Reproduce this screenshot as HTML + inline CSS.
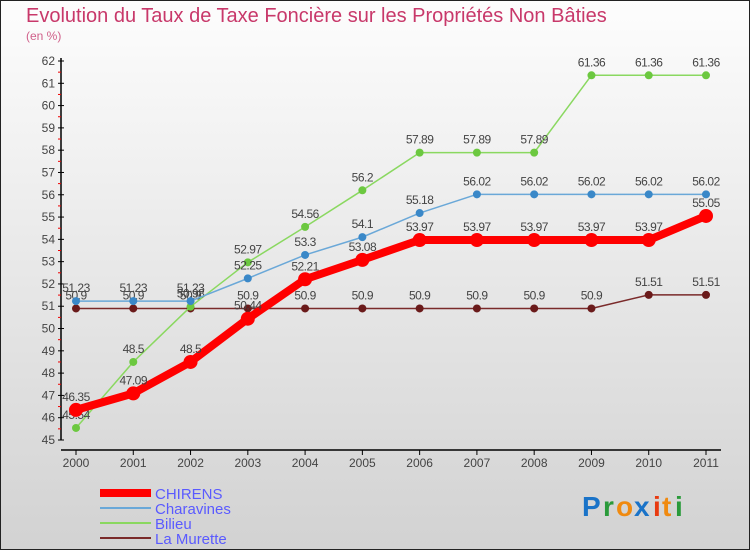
<!DOCTYPE html>
<html><head><meta charset="utf-8"><style>
body{margin:0;width:750px;height:550px;overflow:hidden;font-family:"Liberation Sans",sans-serif}
</style></head><body>
<svg width="750" height="550" xmlns="http://www.w3.org/2000/svg">
<defs><linearGradient id="bg" x1="0" y1="0" x2="0" y2="1"><stop offset="0" stop-color="#fdfdfd"/><stop offset="1" stop-color="#d2d2d2"/></linearGradient></defs>
<rect x="0.5" y="0.5" width="749" height="549" fill="url(#bg)" stroke="#222"/>
<text x="26" y="22" font-size="20" fill="#c8386a">Evolution du Taux de Taxe Foncière sur les Propriétés Non Bâties</text>
<text x="26" y="40" font-size="12" fill="#d0608a">(en %)</text>
<g id="axes"></g>
<g id="series"></g>
<g id="legend"></g>
<g font-size="28" font-family="Liberation Sans, sans-serif" font-weight="bold">
<text x="582" y="516" fill="#1a73c8">P</text><text x="603" y="516" fill="#2a9a3a">r</text><text x="616" y="516" fill="#f08a10">o</text><text x="634" y="516" fill="#1a73c8">x</text><text x="653" y="516" fill="#e83a10">i</text><text x="662" y="516" fill="#f08a10">t</text><text x="675" y="516" fill="#2a9a3a">i</text>
</g>
</svg>
<script>
const years=["2000","2001","2002","2003","2004","2005","2006","2007","2008","2009","2010","2011"];
const yTicks=[45,46,47,48,49,50,51,52,53,54,55,56,57,58,59,60,61,62];
const chirens=[46.35,47.09,48.5,50.44,52.21,53.08,53.97,53.97,53.97,53.97,53.97,55.05];
const charavines=[51.23,51.23,51.23,52.25,53.3,54.1,55.18,56.02,56.02,56.02,56.02,56.02];
const bilieu=[45.54,48.5,50.98,52.97,54.56,56.2,57.89,57.89,57.89,61.36,61.36,61.36];
const murette=[50.9,50.9,50.9,50.9,50.9,50.9,50.9,50.9,50.9,50.9,51.51,51.51];
const NS="http://www.w3.org/2000/svg";
const X=i=>76+i*(630/11);
const Y=v=>440-(v-45)*(379/17);
function mk(t,a,p){const e=document.createElementNS(NS,t);for(const k in a)e.setAttribute(k,a[k]);p.appendChild(e);return e;}
const ax=document.getElementById('axes');
let l=mk('line',{x1:61,y1:58,x2:61,y2:440,stroke:'#000','stroke-width':1.5},ax);


l=mk('line',{x1:61,y1:450,x2:721,y2:450,stroke:'#000','stroke-width':1.5},ax);


yTicks.forEach(v=>{
 mk('line',{x1:58,x2:64,y1:Y(v),y2:Y(v),stroke:'#000'},ax);
 if(v<62)mk('line',{x1:58,x2:61,y1:Y(v+0.5),y2:Y(v+0.5),stroke:'#e00'},ax);
 const t=mk('text',{x:55,y:Y(v)+4,'text-anchor':'end','font-size':12,fill:'#444'},ax);t.textContent=v;
 
 
});
years.forEach((y,i)=>{
 mk('line',{x1:X(i),x2:X(i),y1:450,y2:455,stroke:'#000'},ax);
 const t=mk('text',{x:X(i),y:467,'text-anchor':'middle','font-size':12,fill:'#444'},ax);t.textContent=y;
 
 
});
const sg=document.getElementById('series');
const series=[
 {d:murette,c:'#7a2a2a',f:'#6a1a1a',w:1.5,r:4,n:'la-murette'},
 {d:bilieu,c:'#8ad860',f:'#6cc840',w:1.5,r:4,n:'bilieu'},
 {d:charavines,c:'#6aa8d8',f:'#3a88c8',w:1.5,r:4,n:'charavines'},
 {d:chirens,c:'#f00',f:'#f00',w:8,r:7,n:'chirens'}];
series.forEach(s=>{
 const g=mk('g',{},sg);
 
 
 mk('polyline',{points:s.d.map((v,i)=>X(i)+','+Y(v)).join(' '),fill:'none',stroke:s.c,'stroke-width':s.w,'stroke-linejoin':'round'},g);
 s.d.forEach((v,i)=>{
  const c=mk('circle',{cx:X(i),cy:Y(v),r:s.r,fill:s.f},g);
  
  
  const t=mk('text',{x:X(i),y:Y(v)-9,'text-anchor':'middle','font-size':12,fill:'#444','letter-spacing':'-0.5'},g);t.textContent=v;
  
  
 });
});
const lg=document.getElementById('legend');
[['CHIRENS','#f00',8],['Charavines','#6aa8d8',2],['Bilieu','#8ad860',2],['La Murette','#7a2a2a',2]].forEach((e,i)=>{
 const y=493+i*15;
 const g=mk('g',{},lg);
 
 
 mk('line',{x1:100,x2:151,y1:y,y2:y,stroke:e[1],'stroke-width':e[2]},g);
 const t=mk('text',{x:155,y:y+6,'font-size':15,fill:'#5a5aff'},g);t.textContent=e[0];
});
</script>
</body></html>
